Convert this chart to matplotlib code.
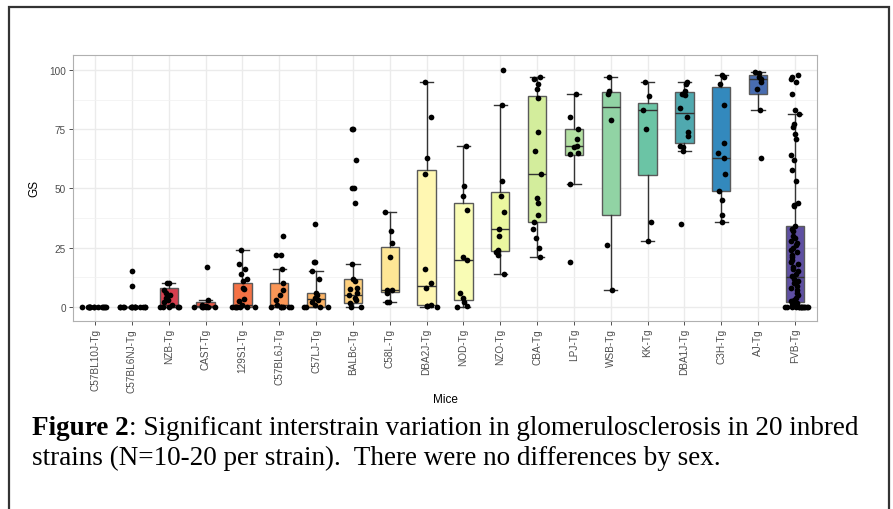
import numpy as np
import matplotlib.pyplot as plt
from matplotlib.patches import Rectangle

# Strains (x axis, in plot order)
strains = ['C57BL10J-Tg', 'C57BL6NJ-Tg', 'NZB-Tg', 'CAST-Tg', '129S1-Tg', 'C57BL6J-Tg',
           'C57LJ-Tg', 'BALBc-Tg', 'C58L-Tg', 'DBA2J-Tg', 'NOD-Tg', 'NZO-Tg', 'CBA-Tg',
           'LPJ-Tg', 'WSB-Tg', 'KK-Tg', 'DBA1J-Tg', 'C3H-Tg', 'AJ-Tg', 'FVB-Tg']

# Box statistics
q1 = [0, 0, 0, 0, 0, 0, 0, 1.5, 6.5, 0.8, 3, 23.7, 36, 64, 39, 55.5, 69, 49, 89.8, 2]
med = [0, 0, 1, 0.5, 1, 1, 3.4, 5, 7.3, 9, 20, 33, 56, 68, 84.5, 83, 82, 63, 96, 12.6]
q3 = [0, 0, 8, 2, 10, 10, 6, 12, 25.5, 57.7, 44, 48.5, 89, 75, 90.6, 86, 90.6, 93, 98, 34]
whis_lo = [0, 0, 0, 0, 0, 0, 0, 0, 2, 0, 0, 14, 21, 52, 7, 28, 66, 36, 83, 0]
whis_hi = [0, 0, 10, 3, 24, 16, 15, 18, 40, 95, 68, 85, 97, 90, 97, 95, 95, 98, 99, 81.6]

# Individual mice (GS values)
gs_points = [
    [0] * 14,
    [15, 9] + [0] * 14,
    [10, 10, 7, 6, 5, 4, 3, 2, 1, 0, 0, 0, 0, 0],
    [17, 3, 1, 0.5, 0, 0, 0, 0, 0, 0],
    [24, 18, 16, 14, 12, 11, 8, 7.5, 3.4, 2.7, 1, 0, 0, 0, 0, 0, 0, 0],
    [30, 22, 22, 16, 10, 7, 5, 3, 1, 0, 0, 0, 0, 0, 0],
    [35, 19, 19, 15, 12, 6, 5, 4, 3, 2, 1, 0, 0, 0, 0],
    [75, 75, 62, 50, 50, 44, 18, 12, 11, 8, 7.5, 6, 5, 4, 3, 1.5, 0, 0],
    [40, 32, 27, 21, 7, 7, 6, 2, 2.2],
    [95, 80, 63, 56, 16, 10, 8, 1, 0.5, 0.3, 0],
    [68, 51, 47, 41, 21, 20, 6, 4, 2, 0.5, 0],
    [100, 85, 53, 47, 40, 33, 30, 24, 23, 22, 14],
    [97, 96, 94, 92, 88, 74, 66, 56, 46, 44, 39, 36, 33, 29, 25, 21],
    [90, 80, 75, 71, 68, 67.5, 65, 64.5, 52, 19],
    [97, 91, 90, 79, 26, 7],
    [95, 89, 83, 75, 36, 28],
    [95, 94, 91, 90, 89.5, 84, 80, 74, 72, 68, 67.5, 66, 35],
    [98, 97, 94, 85, 69, 65, 63, 56, 49, 45, 39, 36],
    [99, 98.5, 97, 96, 95, 92, 83, 63],
    [98, 97, 96, 95, 90, 83, 81.5, 77, 76, 73, 71, 64, 62, 58, 53, 44, 43, 42.6, 34,
     33, 32, 30, 29, 28, 27, 26, 25, 24, 23, 22, 21, 20, 19, 18, 17, 16, 15, 14, 13,
     12, 11, 10, 9, 8, 7, 6, 5, 4, 3, 2.5, 2, 1.5, 1, 0.5] + [0] * 14,
]

caption_bold = 'Figure 2'
caption_1 = ': Significant interstrain variation in glomerulosclerosis in 20 inbred'
caption_2 = 'strains (N=10-20 per strain).  There were no differences by sex.'

plt.rcParams['font.family'] = ['Liberation Sans', 'DejaVu Sans']

fig = plt.figure(figsize=(8.93, 5.10), dpi=100)
ax = fig.add_axes([73 / 893, 1 - 322 / 510, (817 - 73) / 893, (322 - 56) / 510])

pos = np.arange(1, len(strains) + 1)
colors = plt.get_cmap('Spectral')(np.linspace(0, 1, len(strains)))

stats = [dict(q1=a, med=m, q3=b, whislo=lo, whishi=hi, fliers=[])
         for a, m, b, lo, hi in zip(q1, med, q3, whis_lo, whis_hi)]
bp = ax.bxp(stats, positions=pos, widths=0.5, capwidths=0.36, patch_artist=True,
            boxprops=dict(edgecolor='#5a5a5a', linewidth=1.0),
            medianprops=dict(color='#333333', linewidth=1.0),
            whiskerprops=dict(color='#333333', linewidth=1.0),
            capprops=dict(color='#333333', linewidth=1.0), zorder=2)
for patch, c in zip(bp['boxes'], colors):
    patch.set_facecolor(c)

# jittered points
rng = np.random.default_rng(7)
for i, vals in enumerate(gs_points):
    vals = np.array(vals, dtype=float)
    w = np.where(vals == 0, 0.36, 0.12)
    xs = pos[i] + rng.uniform(-1, 1, len(vals)) * w
    ax.scatter(xs, vals, s=17, color='black', zorder=3, linewidths=0)

ax.set_xlim(0.4, 20.6)
ax.set_ylim(-5.9, 106.3)
ax.set_yticks([0, 25, 50, 75, 100])
ax.set_yticks([12.5, 37.5, 62.5, 87.5], minor=True)
ax.set_xticks(pos)
ax.set_xticklabels(strains, rotation=90)
ax.tick_params(axis='both', which='major', labelsize=7.2, labelcolor='#4d4d4d',
               color='#333333', length=3, width=0.6, pad=2)
ax.tick_params(axis='y', which='minor', length=0)
ax.grid(True, which='major', color='#ebebeb', linewidth=1.0)
ax.grid(True, which='minor', axis='y', color='#f2f2f2', linewidth=0.6)
ax.set_axisbelow(True)
for s in ax.spines.values():
    s.set_color('#b0b0b0')
    s.set_linewidth(0.8)
ax.set_ylabel('GS', fontsize=8.5, labelpad=6)
ax.set_xlabel('Mice', fontsize=8.5, labelpad=1)

# slide frame
fig.add_artist(Rectangle((9 / 893, -0.1), (889 - 9) / 893, 1.1 - 8 / 510,
                         transform=fig.transFigure, fill=False,
                         edgecolor='#333333', linewidth=1.6))

# caption
t1 = fig.text(32 / 893, 1 - 441 / 510, caption_bold, family='Liberation Serif',
              fontsize=19.5, fontweight='bold', va='bottom')
ax.annotate(caption_1, xy=(1, 0), xycoords=t1, va='bottom', ha='left',
            family='Liberation Serif', fontsize=19.5, annotation_clip=False)
fig.text(32 / 893, 1 - 471 / 510, caption_2, family='Liberation Serif',
         fontsize=19.5, va='bottom')

fig.savefig('out.png', dpi=100)
